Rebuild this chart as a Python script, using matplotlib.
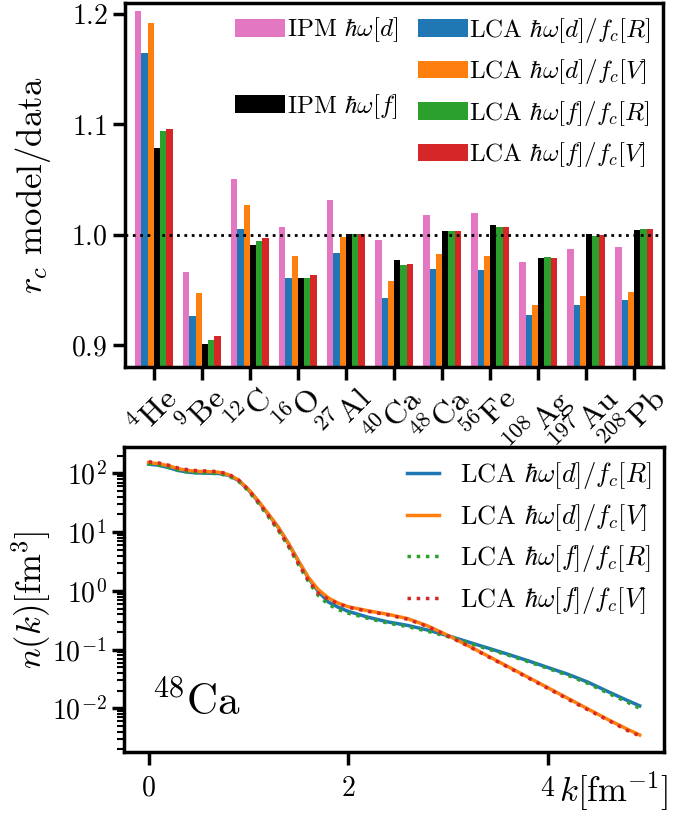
import matplotlib
matplotlib.use("Agg")
import matplotlib.pyplot as plt
from matplotlib.patches import Patch

plt.rcParams['font.family'] = 'serif'
plt.rcParams['font.serif'] = ['cmr10']
plt.rcParams['mathtext.fontset'] = 'cm'
plt.rcParams['axes.formatter.use_mathtext'] = True
plt.rcParams['axes.unicode_minus'] = False

# charge radii ratio model/data
nuclei = [r'$^{4}\mathrm{He}$', r'$^{9}\mathrm{Be}$', r'$^{12}\mathrm{C}$', r'$^{16}\mathrm{O}$',
          r'$^{27}\mathrm{Al}$', r'$^{40}\mathrm{Ca}$', r'$^{48}\mathrm{Ca}$', r'$^{56}\mathrm{Fe}$',
          r'$^{108}\mathrm{Ag}$', r'$^{197}\mathrm{Au}$', r'$^{208}\mathrm{Pb}$']
ipm_d = [1.203, 0.966, 1.050, 1.007, 1.031, 0.9955, 1.018, 1.020, 0.9755, 0.987, 0.989]
lca_d_R = [1.1645, 0.926, 1.0055, 0.961, 0.983, 0.943, 0.969, 0.968, 0.927, 0.936, 0.941]
lca_d_V = [1.192, 0.947, 1.027, 0.981, 0.998, 0.958, 0.982, 0.981, 0.936, 0.9445, 0.948]
ipm_f = [1.079, 0.901, 0.991, 0.961, 1.001, 0.977, 1.0036, 1.009, 0.979, 1.001, 1.0045]
lca_f_R = [1.094, 0.9045, 0.9945, 0.961, 1.001, 0.9727, 1.0036, 1.007, 0.980, 0.999, 1.0055]
lca_f_V = [1.096, 0.908, 0.997, 0.9636, 1.001, 0.9736, 1.0036, 1.007, 0.979, 1.000, 1.0055]

# momentum distribution of 48Ca
k = [0, 0.1, 0.2, 0.3, 0.4, 0.5, 0.6, 0.7, 0.8, 0.9, 1.0, 1.1, 1.2, 1.3, 1.4, 1.5, 1.6, 1.7,
     1.8, 1.9, 2.0, 2.2, 2.4, 2.6, 2.8, 3.0, 3.2, 3.4, 3.6, 3.8, 4.0, 4.2, 4.4, 4.6, 4.8, 4.92]
nk_d_R = [144, 138, 126, 112, 105, 102, 101, 100, 93.3, 75.9, 52.5, 33.1, 20.0, 12.0, 6.46, 3.24,
          1.66, 0.977, 0.646, 0.525, 0.447, 0.355, 0.295, 0.257, 0.214, 0.172, 0.135, 0.106,
          0.0832, 0.0646, 0.0495, 0.0380, 0.0279, 0.0193, 0.0135, 0.0110]
nk_d_V = [153, 146, 135, 120, 112, 108, 107, 105, 95.5, 77.6, 53.7, 33.9, 20.4, 12.0, 6.46, 3.24,
          1.70, 1.05, 0.759, 0.617, 0.537, 0.457, 0.398, 0.335, 0.251, 0.174, 0.117, 0.0776,
          0.0513, 0.0339, 0.0224, 0.0148, 0.00977, 0.00646, 0.00437, 0.00351]
nk_f_R = [145, 138, 126, 112, 105, 102, 101, 98.9, 91.2, 74.1, 50.1, 30.9, 18.2, 10.7, 5.75, 2.82,
          1.45, 0.832, 0.589, 0.479, 0.417, 0.339, 0.282, 0.245, 0.204, 0.166, 0.130, 0.102,
          0.0804, 0.0624, 0.0479, 0.0363, 0.0266, 0.0182, 0.0126, 0.0100]
nk_f_V = [158, 151, 138, 123, 115, 111, 110, 107, 97.7, 77.6, 52.5, 32.4, 19.1, 11.0, 5.89, 2.95,
          1.51, 0.912, 0.724, 0.603, 0.525, 0.447, 0.389, 0.327, 0.245, 0.170, 0.115, 0.0759,
          0.0501, 0.0331, 0.0219, 0.0143, 0.00944, 0.00631, 0.00417, 0.00339]

lbl_ipm_d = r'IPM $\hbar\omega[d]$'
lbl_ipm_f = r'IPM $\hbar\omega[f]$'
lbl_dR = r'LCA $\hbar\omega[d]/f_c[R]$'
lbl_dV = r'LCA $\hbar\omega[d]/f_c[V]$'
lbl_fR = r'LCA $\hbar\omega[f]/f_c[R]$'
lbl_fV = r'LCA $\hbar\omega[f]/f_c[V]$'

fig = plt.figure(figsize=(6.97, 8.15), dpi=100)
ax1 = fig.add_axes([0.1793, 0.5497, 0.772, 0.4466])
ax2 = fig.add_axes([0.178, 0.0773, 0.775, 0.374])

for ax in (ax1, ax2):
    for s in ax.spines.values():
        s.set_linewidth(2.5)
    ax.tick_params(which='major', width=2.5, length=9, labelsize=20)
    ax.tick_params(which='minor', width=1.5, length=5)

# --- top: bar chart ---
w = 0.13
x = list(range(len(nuclei)))
series = [(ipm_d, '#e377c2', lbl_ipm_d), (lca_d_R, '#1f77b4', lbl_dR), (lca_d_V, '#ff7f0e', lbl_dV),
          (ipm_f, 'black', lbl_ipm_f), (lca_f_R, '#2ca02c', lbl_fR), (lca_f_V, '#d62728', lbl_fV)]
bars = {}
for j, (vals, col, lbl) in enumerate(series):
    bars[lbl] = ax1.bar([xi + (j - 2.5) * w for xi in x], vals, width=w, color=col, label=lbl)
ax1.axhline(1.0, color='black', ls=':', lw=2)
ax1.set_ylim(0.88, 1.21)
ax1.set_xlim(-0.6, 10.6)
ax1.set_yticks([0.9, 1.0, 1.1, 1.2])
ax1.set_xticks(x)
ax1.set_xticklabels(nuclei, rotation=45, ha='center', fontsize=23)
ax1.tick_params(axis='x', pad=2)
ax1.set_ylabel(r'$r_c$ model/data', fontsize=25)
ax1.yaxis.set_label_coords(-0.134, 0.5)

blank = Patch(visible=False)
handles = [bars[lbl_ipm_d], blank, bars[lbl_ipm_f], blank,
           bars[lbl_dR], bars[lbl_dV], bars[lbl_fR], bars[lbl_fV]]
labels = [lbl_ipm_d, '', lbl_ipm_f, '', lbl_dR, lbl_dV, lbl_fR, lbl_fV]
ax1.legend(handles, labels, ncol=2, loc='upper right', frameon=False, fontsize=18,
           handletextpad=0.05, columnspacing=0.8, borderaxespad=0.1)

# --- bottom: n(k) ---
ax2.semilogy(k, nk_d_R, color='#1f77b4', lw=2.5, label=lbl_dR)
ax2.semilogy(k, nk_d_V, color='#ff7f0e', lw=2.5, label=lbl_dV)
ax2.semilogy(k, nk_f_R, color='#2ca02c', lw=2.5, ls=':', label=lbl_fR)
ax2.semilogy(k, nk_f_V, color='#d62728', lw=2.5, ls=':', label=lbl_fV)
ax2.set_ylim(1.8e-3, 2.8e2)
ax2.set_xticks([0, 2, 4])
ax2.tick_params(axis='x', pad=8)
ax2.set_ylabel(r'$n(k)[\mathrm{fm}^3]$', fontsize=25)
ax2.yaxis.set_label_coords(-0.131, 0.5)
ax2.set_xlabel(r'$k[\mathrm{fm}^{-1}]$', fontsize=25, loc='right', va='baseline')
ax2.xaxis.set_label_coords(1.007, -0.164)
ax2.text(0.051, 0.12, r'$^{48}\mathrm{Ca}$', transform=ax2.transAxes, fontsize=31)
ax2.legend(loc='upper right', frameon=False, fontsize=19, handlelength=1.2,
           labelspacing=0.4, borderaxespad=0.1)

fig.savefig('out.png', dpi=100)
